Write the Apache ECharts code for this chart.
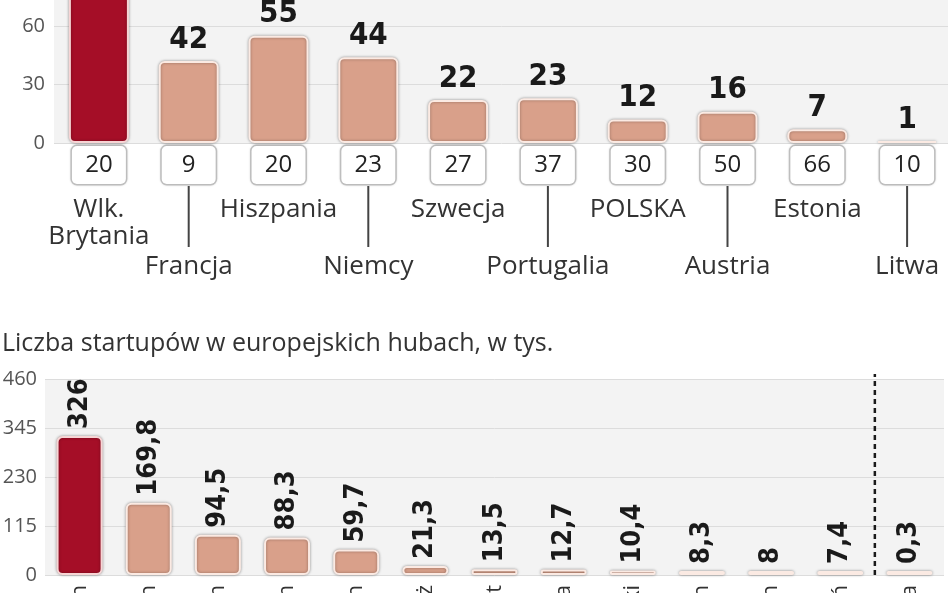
<!DOCTYPE html>
<html>
<head>
<meta charset="utf-8">
<script src="https://cdn.jsdelivr.net/npm/echarts@6/dist/echarts.min.js"></script>
<style>
html,body{margin:0;padding:0;background:#fff;}
#c{width:948px;height:593px;}
</style>
</head>
<body>
<div id="c"></div>
<script>
// ---- top chart data ----
const topCountries = ["Wlk.\nBrytania","Francja","Hiszpania","Niemcy","Szwecja","Portugalia","POLSKA","Austria","Estonia","Litwa"];
const topValues = [98, 42, 55, 44, 22, 23, 12, 16, 7, 1];
const topBoxValues = [20, 9, 20, 23, 27, 37, 30, 50, 66, 10];
const topYTicks = [0, 30, 60, 90];

// ---- bottom chart data ----
const hubTitle = "Liczba startupów w europejskich hubach, w tys.";
const hubCities = ["Londyn","Berlin","Amsterdam","Sztokholm","Dublin","Paryż","Madryt","Barcelona","Helsinki","Tallin","Mediolan","Wiedeń","Warszawa"];
const hubValues = [326, 169.8, 94.5, 88.3, 59.7, 21.3, 13.5, 12.7, 10.4, 8.3, 8, 7.4, 0.3];
const hubYTicks = [0, 115, 230, 345, 460];
// separator drawn before the last hub (Poland), as a boundary index
const separatorIndex = hubCities.length - 1;
const separatorTop = 472;

const RED = '#a50e27';
const PEACH = '#d9a08a';
const FONT = '"Open Sans", "Noto Sans", sans-serif';
const NUMFONT = '"DejaVu Sans Condensed", "Liberation Sans Narrow", sans-serif';

const barStyle = (i) => ({
  color: i === 0 ? RED : PEACH,
  borderColor: i === 0 ? '#f7d5d5' : '#fbeae3',
  borderWidth: 2,
  borderRadius: 5,
  shadowColor: 'rgba(0,0,0,0.35)',
  shadowBlur: 3
});

const chart = echarts.init(document.getElementById('c'), null, {renderer: 'canvas'});

const option = {
  animation: false,
  backgroundColor: '#ffffff',
  title: {
    text: hubTitle,
    left: -3,
    top: 326,
    textStyle: {fontFamily: FONT, fontSize: 25, fontWeight: 'normal', color: '#333'}
  },
  grid: [
    {left: 54, right: -4, top: -32.5, bottom: 450, show: true, backgroundColor: '#f3f3f3', borderWidth: 0,
     outerBoundsMode: 'none', containLabel: false},
    {left: 45, right: 4, top: 379, bottom: 18, show: true, backgroundColor: '#f3f3f3', borderWidth: 0,
     outerBoundsMode: 'none', containLabel: false}
  ],
  xAxis: [
    {
      type: 'category', gridIndex: 0, data: topCountries,
      axisLine: {show: false}, axisTick: {show: false},
      axisLabel: {
        interval: 0, margin: 2, hideOverlap: false,
        formatter: function (val, idx) {
          const names = val.split('\n').map(s => '{name|' + s + '}').join('\n');
          if (idx % 2 === 0) {
            return '{box|' + topBoxValues[idx] + '}\n{gap| }\n' + names;
          }
          return '{box|' + topBoxValues[idx] + '}\n{vline| }\n{name2|' + val + '}';
        },
        rich: {
          box: {
            fontFamily: FONT, fontSize: 24, color: '#222',
            backgroundColor: '#ffffff', borderColor: '#c4c4c4', borderWidth: 1.5,
            borderRadius: 5, width: 54, height: 38, lineHeight: 40, align: 'center',
            shadowColor: 'rgba(0,0,0,0.15)', shadowBlur: 2
          },
          gap: {height: 11, lineHeight: 11, fontSize: 4},
          name: {fontFamily: FONT, fontSize: 26, color: '#333', lineHeight: 27, align: 'center'},
          vline: {width: 2, height: 61, lineHeight: 63, backgroundColor: '#444', fontSize: 2, align: 'center'},
          name2: {fontFamily: FONT, fontSize: 26, color: '#333', lineHeight: 38, align: 'center'}
        }
      }
    },
    {
      type: 'category', gridIndex: 1, data: hubCities,
      axisLine: {show: false}, axisTick: {show: false},
      axisLabel: {interval: 0, rotate: 90, margin: 10, fontFamily: FONT, fontSize: 22, color: '#333', hideOverlap: false}
    },
    {
      type: 'value', gridIndex: 1, min: 0, max: hubCities.length, show: false
    }
  ],
  yAxis: [
    {
      type: 'value', gridIndex: 0, min: topYTicks[0], max: topYTicks[topYTicks.length - 1], interval: 30,
      axisLine: {show: false}, axisTick: {show: false},
      axisLabel: {margin: 9, fontFamily: FONT, fontSize: 20, color: '#555'},
      splitLine: {lineStyle: {color: '#dcdcdc', width: 1}}
    },
    {
      type: 'value', gridIndex: 1, min: hubYTicks[0], max: hubYTicks[hubYTicks.length - 1], interval: 115,
      axisLine: {show: false}, axisTick: {show: false},
      axisLabel: {margin: 8, fontFamily: FONT, fontSize: 20, color: '#555'},
      splitLine: {lineStyle: {color: '#dcdcdc', width: 1}}
    }
  ],
  series: [
    {
      type: 'bar', xAxisIndex: 0, yAxisIndex: 0, barWidth: 60,
      data: topValues.map((v, i) => ({value: v, itemStyle: barStyle(i)})),
      label: {
        show: true, position: 'top', distance: 6,
        fontFamily: NUMFONT, fontWeight: 'bold', fontSize: 31, color: '#1a1a1a'
      }
    },
    {
      type: 'bar', xAxisIndex: 1, yAxisIndex: 1, barWidth: 46, barMinHeight: 4,
      data: hubValues.map((v, i) => ({value: v, itemStyle: barStyle(i)})),
      label: {
        show: true, position: 'top', distance: 7, rotate: 90, align: 'left', verticalAlign: 'middle',
        fontFamily: NUMFONT, fontWeight: 'bold', fontSize: 27, color: '#1a1a1a',
        formatter: p => String(p.value).replace('.', ',')
      }
    },
    {
      type: 'line', xAxisIndex: 2, yAxisIndex: 1, clip: false, silent: true,
      symbol: 'none',
      data: [[separatorIndex, hubYTicks[0]], [separatorIndex, separatorTop]],
      lineStyle: {color: '#1a1a1a', width: 2.5, type: [5, 4]}
    }
  ]
};
chart.setOption(option);
</script>
</body>
</html>
